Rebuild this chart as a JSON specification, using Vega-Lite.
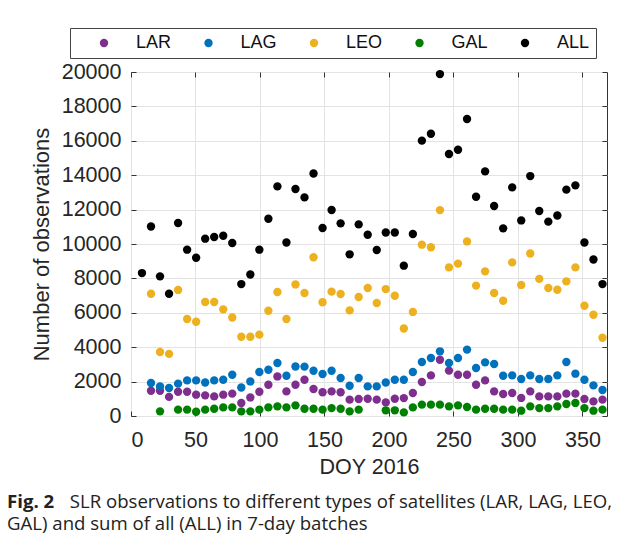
{
  "$schema": "https://vega.github.io/schema/vega-lite/v6.json",
  "autosize": {"type": "none"},
  "padding": {"left": 131, "top": 72, "right": 22, "bottom": 126},
  "width": 476,
  "height": 344,
  "background": "white",
  "title": {
    "text": "Fig. 2",
    "subtitle": ["\u200b\u00a0\u00a0\u00a0\u00a0\u00a0\u00a0\u00a0\u00a0\u00a0\u00a0\u00a0\u00a0\u00a0SLR observations to different types of satellites (LAR, LAG, LEO,", "GAL) and sum of all (ALL) in 7-day batches"],
    "orient": "bottom",
    "anchor": "start",
    "frame": "group",
    "dx": -124,
    "offset": 15,
    "font": "Open Sans",
    "fontSize": 18.6,
    "fontWeight": "bold",
    "color": "#222222",
    "subtitleFont": "Open Sans",
    "subtitleFontSize": 18.6,
    "subtitleFontWeight": "normal",
    "subtitleColor": "#222222",
    "subtitlePadding": -18.6,
    "subtitleLineHeight": 22
  },
  "data": {
    "values": [
      {"series": "LAR", "doy": 15.5, "obs": 1470},
      {"series": "LAR", "doy": 22.5, "obs": 1470},
      {"series": "LAR", "doy": 29.5, "obs": 1110},
      {"series": "LAR", "doy": 36.5, "obs": 1410},
      {"series": "LAR", "doy": 43.5, "obs": 1410},
      {"series": "LAR", "doy": 50.5, "obs": 1240},
      {"series": "LAR", "doy": 57.5, "obs": 1200},
      {"series": "LAR", "doy": 64.5, "obs": 1140},
      {"series": "LAR", "doy": 71.5, "obs": 1240},
      {"series": "LAR", "doy": 78.5, "obs": 1300},
      {"series": "LAR", "doy": 85.5, "obs": 760},
      {"series": "LAR", "doy": 92.5, "obs": 1080},
      {"series": "LAR", "doy": 99.5, "obs": 1410},
      {"series": "LAR", "doy": 106.5, "obs": 1820},
      {"series": "LAR", "doy": 113.5, "obs": 2300},
      {"series": "LAR", "doy": 120.5, "obs": 1430},
      {"series": "LAR", "doy": 127.5, "obs": 1820},
      {"series": "LAR", "doy": 134.5, "obs": 2110},
      {"series": "LAR", "doy": 141.5, "obs": 1570},
      {"series": "LAR", "doy": 148.5, "obs": 1380},
      {"series": "LAR", "doy": 155.5, "obs": 1430},
      {"series": "LAR", "doy": 162.5, "obs": 1380},
      {"series": "LAR", "doy": 169.5, "obs": 950},
      {"series": "LAR", "doy": 176.5, "obs": 990},
      {"series": "LAR", "doy": 183.5, "obs": 1000},
      {"series": "LAR", "doy": 190.5, "obs": 950},
      {"series": "LAR", "doy": 197.5, "obs": 790},
      {"series": "LAR", "doy": 204.5, "obs": 1000},
      {"series": "LAR", "doy": 211.5, "obs": 1040},
      {"series": "LAR", "doy": 218.5, "obs": 1340},
      {"series": "LAR", "doy": 225.5, "obs": 1980},
      {"series": "LAR", "doy": 232.5, "obs": 2360},
      {"series": "LAR", "doy": 239.5, "obs": 3270},
      {"series": "LAR", "doy": 246.5, "obs": 2640},
      {"series": "LAR", "doy": 253.5, "obs": 2400},
      {"series": "LAR", "doy": 260.5, "obs": 2400},
      {"series": "LAR", "doy": 267.5, "obs": 1820},
      {"series": "LAR", "doy": 274.5, "obs": 2070},
      {"series": "LAR", "doy": 281.5, "obs": 1430},
      {"series": "LAR", "doy": 288.5, "obs": 1280},
      {"series": "LAR", "doy": 295.5, "obs": 1340},
      {"series": "LAR", "doy": 302.5, "obs": 1050},
      {"series": "LAR", "doy": 309.5, "obs": 1430},
      {"series": "LAR", "doy": 316.5, "obs": 1140},
      {"series": "LAR", "doy": 323.5, "obs": 1140},
      {"series": "LAR", "doy": 330.5, "obs": 1140},
      {"series": "LAR", "doy": 337.5, "obs": 1300},
      {"series": "LAR", "doy": 344.5, "obs": 1300},
      {"series": "LAR", "doy": 351.5, "obs": 990},
      {"series": "LAR", "doy": 358.5, "obs": 850},
      {"series": "LAR", "doy": 365.5, "obs": 950},

      {"series": "LAG", "doy": 15.5, "obs": 1920},
      {"series": "LAG", "doy": 22.5, "obs": 1720},
      {"series": "LAG", "doy": 29.5, "obs": 1630},
      {"series": "LAG", "doy": 36.5, "obs": 1880},
      {"series": "LAG", "doy": 43.5, "obs": 2070},
      {"series": "LAG", "doy": 50.5, "obs": 2070},
      {"series": "LAG", "doy": 57.5, "obs": 1950},
      {"series": "LAG", "doy": 64.5, "obs": 2070},
      {"series": "LAG", "doy": 71.5, "obs": 2110},
      {"series": "LAG", "doy": 78.5, "obs": 2400},
      {"series": "LAG", "doy": 85.5, "obs": 1660},
      {"series": "LAG", "doy": 92.5, "obs": 2010},
      {"series": "LAG", "doy": 99.5, "obs": 2560},
      {"series": "LAG", "doy": 106.5, "obs": 2690},
      {"series": "LAG", "doy": 113.5, "obs": 3080},
      {"series": "LAG", "doy": 120.5, "obs": 2340},
      {"series": "LAG", "doy": 127.5, "obs": 2880},
      {"series": "LAG", "doy": 134.5, "obs": 2870},
      {"series": "LAG", "doy": 141.5, "obs": 2630},
      {"series": "LAG", "doy": 148.5, "obs": 2440},
      {"series": "LAG", "doy": 155.5, "obs": 2630},
      {"series": "LAG", "doy": 162.5, "obs": 2210},
      {"series": "LAG", "doy": 169.5, "obs": 1760},
      {"series": "LAG", "doy": 176.5, "obs": 2210},
      {"series": "LAG", "doy": 183.5, "obs": 1720},
      {"series": "LAG", "doy": 190.5, "obs": 1720},
      {"series": "LAG", "doy": 197.5, "obs": 1950},
      {"series": "LAG", "doy": 204.5, "obs": 2110},
      {"series": "LAG", "doy": 211.5, "obs": 2110},
      {"series": "LAG", "doy": 218.5, "obs": 2560},
      {"series": "LAG", "doy": 225.5, "obs": 3140},
      {"series": "LAG", "doy": 232.5, "obs": 3370},
      {"series": "LAG", "doy": 239.5, "obs": 3760},
      {"series": "LAG", "doy": 246.5, "obs": 3080},
      {"series": "LAG", "doy": 253.5, "obs": 3370},
      {"series": "LAG", "doy": 260.5, "obs": 3860},
      {"series": "LAG", "doy": 267.5, "obs": 2790},
      {"series": "LAG", "doy": 274.5, "obs": 3120},
      {"series": "LAG", "doy": 281.5, "obs": 3020},
      {"series": "LAG", "doy": 288.5, "obs": 2340},
      {"series": "LAG", "doy": 295.5, "obs": 2360},
      {"series": "LAG", "doy": 302.5, "obs": 2150},
      {"series": "LAG", "doy": 309.5, "obs": 2360},
      {"series": "LAG", "doy": 316.5, "obs": 2150},
      {"series": "LAG", "doy": 323.5, "obs": 2150},
      {"series": "LAG", "doy": 330.5, "obs": 2360},
      {"series": "LAG", "doy": 337.5, "obs": 3140},
      {"series": "LAG", "doy": 344.5, "obs": 2460},
      {"series": "LAG", "doy": 351.5, "obs": 2110},
      {"series": "LAG", "doy": 358.5, "obs": 1780},
      {"series": "LAG", "doy": 365.5, "obs": 1510},

      {"series": "LEO", "doy": 15.5, "obs": 7110},
      {"series": "LEO", "doy": 22.5, "obs": 3720},
      {"series": "LEO", "doy": 29.5, "obs": 3610},
      {"series": "LEO", "doy": 36.5, "obs": 7330},
      {"series": "LEO", "doy": 43.5, "obs": 5640},
      {"series": "LEO", "doy": 50.5, "obs": 5480},
      {"series": "LEO", "doy": 57.5, "obs": 6630},
      {"series": "LEO", "doy": 64.5, "obs": 6630},
      {"series": "LEO", "doy": 71.5, "obs": 6200},
      {"series": "LEO", "doy": 78.5, "obs": 5730},
      {"series": "LEO", "doy": 85.5, "obs": 4610},
      {"series": "LEO", "doy": 92.5, "obs": 4610},
      {"series": "LEO", "doy": 99.5, "obs": 4730},
      {"series": "LEO", "doy": 106.5, "obs": 6120},
      {"series": "LEO", "doy": 113.5, "obs": 7210},
      {"series": "LEO", "doy": 120.5, "obs": 5640},
      {"series": "LEO", "doy": 127.5, "obs": 7650},
      {"series": "LEO", "doy": 134.5, "obs": 7150},
      {"series": "LEO", "doy": 141.5, "obs": 9230},
      {"series": "LEO", "doy": 148.5, "obs": 6610},
      {"series": "LEO", "doy": 155.5, "obs": 7230},
      {"series": "LEO", "doy": 162.5, "obs": 7090},
      {"series": "LEO", "doy": 169.5, "obs": 6140},
      {"series": "LEO", "doy": 176.5, "obs": 6920},
      {"series": "LEO", "doy": 183.5, "obs": 7440},
      {"series": "LEO", "doy": 190.5, "obs": 6570},
      {"series": "LEO", "doy": 197.5, "obs": 7380},
      {"series": "LEO", "doy": 204.5, "obs": 6990},
      {"series": "LEO", "doy": 211.5, "obs": 5090},
      {"series": "LEO", "doy": 218.5, "obs": 6050},
      {"series": "LEO", "doy": 225.5, "obs": 9960},
      {"series": "LEO", "doy": 232.5, "obs": 9810},
      {"series": "LEO", "doy": 239.5, "obs": 11970},
      {"series": "LEO", "doy": 246.5, "obs": 8640},
      {"series": "LEO", "doy": 253.5, "obs": 8860},
      {"series": "LEO", "doy": 260.5, "obs": 10150},
      {"series": "LEO", "doy": 267.5, "obs": 7580},
      {"series": "LEO", "doy": 274.5, "obs": 8410},
      {"series": "LEO", "doy": 281.5, "obs": 7150},
      {"series": "LEO", "doy": 288.5, "obs": 6700},
      {"series": "LEO", "doy": 295.5, "obs": 8930},
      {"series": "LEO", "doy": 302.5, "obs": 7620},
      {"series": "LEO", "doy": 309.5, "obs": 9450},
      {"series": "LEO", "doy": 316.5, "obs": 7970},
      {"series": "LEO", "doy": 323.5, "obs": 7440},
      {"series": "LEO", "doy": 330.5, "obs": 7340},
      {"series": "LEO", "doy": 337.5, "obs": 7830},
      {"series": "LEO", "doy": 344.5, "obs": 8640},
      {"series": "LEO", "doy": 351.5, "obs": 6410},
      {"series": "LEO", "doy": 358.5, "obs": 5890},
      {"series": "LEO", "doy": 365.5, "obs": 4550},

      {"series": "GAL", "doy": 22.5, "obs": 270},
      {"series": "GAL", "doy": 36.5, "obs": 370},
      {"series": "GAL", "doy": 43.5, "obs": 370},
      {"series": "GAL", "doy": 50.5, "obs": 250},
      {"series": "GAL", "doy": 57.5, "obs": 370},
      {"series": "GAL", "doy": 64.5, "obs": 420},
      {"series": "GAL", "doy": 71.5, "obs": 500},
      {"series": "GAL", "doy": 78.5, "obs": 500},
      {"series": "GAL", "doy": 85.5, "obs": 270},
      {"series": "GAL", "doy": 92.5, "obs": 270},
      {"series": "GAL", "doy": 99.5, "obs": 370},
      {"series": "GAL", "doy": 106.5, "obs": 500},
      {"series": "GAL", "doy": 113.5, "obs": 560},
      {"series": "GAL", "doy": 120.5, "obs": 500},
      {"series": "GAL", "doy": 127.5, "obs": 620},
      {"series": "GAL", "doy": 134.5, "obs": 420},
      {"series": "GAL", "doy": 141.5, "obs": 420},
      {"series": "GAL", "doy": 148.5, "obs": 370},
      {"series": "GAL", "doy": 155.5, "obs": 460},
      {"series": "GAL", "doy": 162.5, "obs": 420},
      {"series": "GAL", "doy": 169.5, "obs": 270},
      {"series": "GAL", "doy": 176.5, "obs": 370},
      {"series": "GAL", "doy": 197.5, "obs": 330},
      {"series": "GAL", "doy": 204.5, "obs": 330},
      {"series": "GAL", "doy": 211.5, "obs": 210},
      {"series": "GAL", "doy": 218.5, "obs": 500},
      {"series": "GAL", "doy": 225.5, "obs": 660},
      {"series": "GAL", "doy": 232.5, "obs": 660},
      {"series": "GAL", "doy": 239.5, "obs": 660},
      {"series": "GAL", "doy": 246.5, "obs": 560},
      {"series": "GAL", "doy": 253.5, "obs": 620},
      {"series": "GAL", "doy": 260.5, "obs": 520},
      {"series": "GAL", "doy": 267.5, "obs": 370},
      {"series": "GAL", "doy": 274.5, "obs": 420},
      {"series": "GAL", "doy": 281.5, "obs": 420},
      {"series": "GAL", "doy": 288.5, "obs": 370},
      {"series": "GAL", "doy": 295.5, "obs": 370},
      {"series": "GAL", "doy": 302.5, "obs": 310},
      {"series": "GAL", "doy": 309.5, "obs": 560},
      {"series": "GAL", "doy": 316.5, "obs": 460},
      {"series": "GAL", "doy": 323.5, "obs": 460},
      {"series": "GAL", "doy": 330.5, "obs": 560},
      {"series": "GAL", "doy": 337.5, "obs": 700},
      {"series": "GAL", "doy": 344.5, "obs": 760},
      {"series": "GAL", "doy": 351.5, "obs": 460},
      {"series": "GAL", "doy": 358.5, "obs": 310},
      {"series": "GAL", "doy": 365.5, "obs": 370},

      {"series": "ALL", "doy": 8.5, "obs": 8310},
      {"series": "ALL", "doy": 15.5, "obs": 11020},
      {"series": "ALL", "doy": 22.5, "obs": 8120},
      {"series": "ALL", "doy": 29.5, "obs": 7110},
      {"series": "ALL", "doy": 36.5, "obs": 11220},
      {"series": "ALL", "doy": 43.5, "obs": 9670},
      {"series": "ALL", "doy": 50.5, "obs": 9200},
      {"series": "ALL", "doy": 57.5, "obs": 10310},
      {"series": "ALL", "doy": 64.5, "obs": 10410},
      {"series": "ALL", "doy": 71.5, "obs": 10480},
      {"series": "ALL", "doy": 78.5, "obs": 10060},
      {"series": "ALL", "doy": 85.5, "obs": 7670},
      {"series": "ALL", "doy": 92.5, "obs": 8230},
      {"series": "ALL", "doy": 99.5, "obs": 9670},
      {"series": "ALL", "doy": 106.5, "obs": 11470},
      {"series": "ALL", "doy": 113.5, "obs": 13350},
      {"series": "ALL", "doy": 120.5, "obs": 10090},
      {"series": "ALL", "doy": 127.5, "obs": 13200},
      {"series": "ALL", "doy": 134.5, "obs": 12710},
      {"series": "ALL", "doy": 141.5, "obs": 14100},
      {"series": "ALL", "doy": 148.5, "obs": 10930},
      {"series": "ALL", "doy": 155.5, "obs": 11980},
      {"series": "ALL", "doy": 162.5, "obs": 11200},
      {"series": "ALL", "doy": 169.5, "obs": 9400},
      {"series": "ALL", "doy": 176.5, "obs": 11140},
      {"series": "ALL", "doy": 183.5, "obs": 10540},
      {"series": "ALL", "doy": 190.5, "obs": 9650},
      {"series": "ALL", "doy": 197.5, "obs": 10670},
      {"series": "ALL", "doy": 204.5, "obs": 10670},
      {"series": "ALL", "doy": 211.5, "obs": 8740},
      {"series": "ALL", "doy": 218.5, "obs": 10580},
      {"series": "ALL", "doy": 225.5, "obs": 16010},
      {"series": "ALL", "doy": 232.5, "obs": 16410},
      {"series": "ALL", "doy": 239.5, "obs": 19880},
      {"series": "ALL", "doy": 246.5, "obs": 15230},
      {"series": "ALL", "doy": 253.5, "obs": 15480},
      {"series": "ALL", "doy": 260.5, "obs": 17270},
      {"series": "ALL", "doy": 267.5, "obs": 12750},
      {"series": "ALL", "doy": 274.5, "obs": 14220},
      {"series": "ALL", "doy": 281.5, "obs": 12210},
      {"series": "ALL", "doy": 288.5, "obs": 10910},
      {"series": "ALL", "doy": 295.5, "obs": 13290},
      {"series": "ALL", "doy": 302.5, "obs": 11370},
      {"series": "ALL", "doy": 309.5, "obs": 13950},
      {"series": "ALL", "doy": 316.5, "obs": 11920},
      {"series": "ALL", "doy": 323.5, "obs": 11300},
      {"series": "ALL", "doy": 330.5, "obs": 11660},
      {"series": "ALL", "doy": 337.5, "obs": 13160},
      {"series": "ALL", "doy": 344.5, "obs": 13410},
      {"series": "ALL", "doy": 351.5, "obs": 10090},
      {"series": "ALL", "doy": 358.5, "obs": 9100},
      {"series": "ALL", "doy": 365.5, "obs": 7670}
    ]
  },
  "layer": [
    {
      "mark": {"type": "circle", "size": 70, "opacity": 1},
      "encoding": {
        "x": {
          "field": "doy",
          "type": "quantitative",
          "scale": {"domain": [0, 369], "nice": false, "zero": false},
          "axis": {
            "orient": "bottom",
            "title": "DOY 2016",
            "values": [0, 50, 100, 150, 200, 250, 300, 350],
            "labelFontSize": 21.5,
            "titleFontSize": 21.5,
            "labelPadding": 18,
            "titlePadding": 6,
            "tickSize": -5
          }
        },
        "y": {
          "field": "obs",
          "type": "quantitative",
          "scale": {"domain": [0, 20000], "nice": false},
          "axis": {
            "orient": "left",
            "title": "Number of observations",
            "values": [0, 2000, 4000, 6000, 8000, 10000, 12000, 14000, 16000, 18000, 20000],
            "format": "d",
            "labelFontSize": 21.5,
            "titleFontSize": 22,
            "labelPadding": 15,
            "titlePadding": 8,
            "tickSize": -5
          }
        },
        "color": {
          "field": "series",
          "type": "nominal",
          "sort": ["LAR", "LAG", "LEO", "GAL", "ALL"],
          "scale": {
            "domain": ["LAR", "LAG", "LEO", "GAL", "ALL"],
            "range": ["#7E2F8E", "#0072BD", "#EDB120", "#008000", "#000000"]
          },
          "legend": {
            "orient": "none",
            "legendX": -61,
            "legendY": -44,
            "direction": "horizontal",
            "title": "\u00a0",
            "titleOrient": "left",
            "titleFontSize": 18,
            "titlePadding": 19,
            "padding": 6,
            "labelFontSize": 18,
            "labelOffset": 23,
            "columnPadding": 27.5,
            "symbolSize": 70,
            "symbolType": "circle",
            "symbolStrokeWidth": 0,
            "strokeColor": "#444444",
            "fillColor": "white"
          }
        }
      }
    },
    {
      "mark": {"type": "circle", "size": 70, "opacity": 0},
      "encoding": {
        "x": {
          "field": "doy",
          "type": "quantitative",
          "scale": {"domain": [0, 369], "nice": false, "zero": false},
          "axis": {
            "orient": "top",
            "title": null,
            "values": [0, 50, 100, 150, 200, 250, 300, 350],
            "labels": false,
            "grid": false,
            "tickSize": -5
          }
        },
        "y": {
          "field": "obs",
          "type": "quantitative",
          "scale": {"domain": [0, 20000], "nice": false},
          "axis": {
            "orient": "right",
            "title": null,
            "values": [0, 2000, 4000, 6000, 8000, 10000, 12000, 14000, 16000, 18000, 20000],
            "labels": false,
            "grid": false,
            "tickSize": -5
          }
        }
      }
    }
  ],
  "resolve": {"axis": {"x": "independent", "y": "independent"}},
  "config": {
    "font": "Liberation Sans",
    "view": {"stroke": "#333333", "strokeWidth": 1},
    "axis": {
      "labelFont": "Liberation Sans",
      "titleFont": "Liberation Sans",
      "labelColor": "#262626",
      "titleColor": "#262626",
      "titleFontWeight": "normal",
      "domain": false,
      "tickColor": "#333333",
      "gridColor": "#e3e3e3",
      "grid": true
    },
    "legend": {
      "labelFont": "Liberation Sans",
      "labelColor": "#111111",
      "titleFont": "Liberation Sans"
    }
  }
}
